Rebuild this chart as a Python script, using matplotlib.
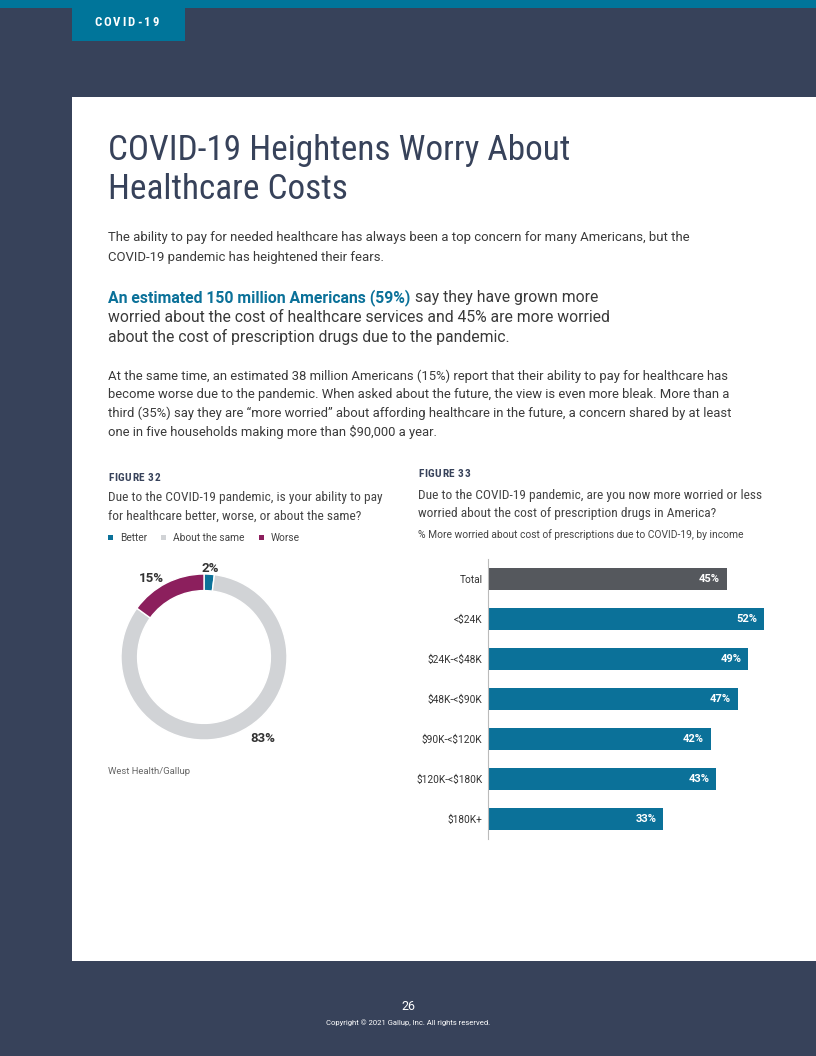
import matplotlib.pyplot as plt
from matplotlib.patches import Rectangle
from matplotlib import font_manager as fm

# figure 32: ability to pay for healthcare
pie_labels = ['Better', 'About the same', 'Worse']
pie_values = [2, 83, 15]
pie_colors = ['#0b7199', '#d1d3d6', '#8c1f5d']
pie_text = ['2%', '83%', '15%']

# figure 33: more worried about cost of prescriptions, by income
bar_labels = ['Total', '<\\$24K', '\\$24K-<\\$48K', '\\$48K-<\\$90K', '\\$90K-<\\$120K',
              '\\$120K-<\\$180K', '\\$180K+']
bar_values = [45, 52, 49, 47, 42, 43, 33]

NAVY = '#37425a'
TEAL = '#0b7199'
TXT = '#3a3a3a'

plt.rcParams['font.family'] = ['Roboto', 'DejaVu Sans']


def find_narrow():
    # look for any condensed / narrow face that is installed
    prefs = ['Roboto Condensed', 'Open Sans Condensed', 'Noto Sans', 'Liberation Sans Narrow',
             'DejaVu Sans']
    found = {}
    for f in fm.fontManager.ttflist:
        narrow = ('Condensed' in f.name or 'Narrow' in f.name or
                  f.stretch in ('condensed', 'semi-condensed') or
                  'Condensed' in f.fname or 'Narrow' in f.fname)
        if not narrow or 'Extra' in f.fname or 'Semi' in f.fname or 'Italic' in f.fname:
            continue
        w = f.weight if isinstance(f.weight, int) else (700 if 'bold' in str(f.weight).lower() else 400)
        for rank, p in enumerate(prefs):
            if f.name.startswith(p.split(' ')[0]):
                key = 'bold' if w >= 700 else ('reg' if w == 400 else None)
                if key and (key not in found or found[key][0] > rank):
                    found[key] = (rank, f.fname)
    return found


nf = find_narrow()
if 'reg' in nf:
    NREG = dict(fontproperties=fm.FontProperties(fname=nf['reg'][1]))
else:
    NREG = dict(family=['Roboto'])
if 'bold' in nf:
    NBOLD = dict(fontproperties=fm.FontProperties(fname=nf['bold'][1]))
else:
    NBOLD = dict(family=['Roboto'], fontweight='bold')

fig = plt.figure(figsize=(8.16, 10.56), dpi=100)
fig.patch.set_facecolor(NAVY)

# page layer in pixel coordinates
pg = fig.add_axes([0, 0, 1, 1])
pg.set_xlim(0, 816)
pg.set_ylim(1056, 0)
pg.axis('off')


def fit(t, width):
    # scale a text so its rendered width matches the page
    fig.canvas.draw()
    w = t.get_window_extent().width
    t.set_fontsize(t.get_fontsize() * width / w)


def tracked(x, y, s, size, color, track):
    # letter-spaced label, one character at a time
    for ch in s:
        t = pg.text(x, y, ch, color=color, size=size, va='center', **NBOLD)
        fig.canvas.draw()
        x = t.get_window_extent().x1 + track


pg.add_patch(Rectangle((0, 0), 816, 8, color='#00759a', lw=0))
pg.add_patch(Rectangle((72, 6), 113, 35, color='#00759a', lw=0))
pg.add_patch(Rectangle((72, 97), 744, 864, color='white', lw=0))
tracked(94, 23, 'COVID-19', 9.2, 'white', 2.0)

t = pg.text(108, 160, 'COVID-19 Heightens Worry About', color=NAVY, size=24, va='baseline', **NREG)
fit(t, 463)
pg.text(108, 199, 'Healthcare Costs', color=NAVY, size=t.get_fontsize(), va='baseline', **NREG)

intro = ['The ability to pay for needed healthcare has always been a top concern for many Americans, but the',
         'COVID-19 pandemic has heightened their fears.']
t = pg.text(108, 238, intro[0], color=TXT, size=9.3, va='center')
fit(t, 578)
pg.text(108, 257, intro[1], color=TXT, size=t.get_fontsize(), va='center')

t1 = pg.text(108, 302, 'An estimated 150 million Americans (59%)', color=TEAL,
             size=11.5, fontweight='bold', va='baseline')
t2 = pg.text(108, 322, 'worried about the cost of healthcare services and 45% are more worried',
             color=TXT, size=11.5, va='baseline')
fit(t2, 506)
t1.set_fontsize(t2.get_fontsize())
fig.canvas.draw()
x_end = t1.get_window_extent().x1
pg.text(x_end + 5, 302, 'say they have grown more', color=TXT, size=t2.get_fontsize(), va='baseline')
pg.text(108, 342, 'about the cost of prescription drugs due to the pandemic.',
        color=TXT, size=t2.get_fontsize(), va='baseline')

para = ['At the same time, an estimated 38 million Americans (15%) report that their ability to pay for healthcare has',
        'become worse due to the pandemic. When asked about the future, the view is even more bleak. More than a',
        'third (35%) say they are \u201cmore worried\u201d about affording healthcare in the future, a concern shared by at least',
        'one in five households making more than \\$90,000 a year.']
t = pg.text(108, 376, para[0], color=TXT, size=9.3, va='center')
fit(t, 620)
for i, line in enumerate(para[1:], start=1):
    pg.text(108, 376 + i * 18.7, line, color=TXT, size=t.get_fontsize(), va='center')

# figure headers
tracked(108, 478, 'FIGURE 32', 8.2, NAVY, 0.6)
t = pg.text(108, 498, 'Due to the COVID-19 pandemic, is your ability to pay', color='#444444',
            size=9.5, va='center', **NREG)
fit(t, 275)
fs_q = t.get_fontsize()
pg.text(108, 516, 'for healthcare better, worse, or about the same?', color='#444444',
        size=fs_q, va='center', **NREG)

lx = 108
for lab, col in zip(pie_labels, pie_colors):
    pg.add_patch(Rectangle((lx, 535), 5, 5, color=col, lw=0))
    t = pg.text(lx + 12, 538, lab, color='#444444', size=7.3, va='center')
    fig.canvas.draw()
    lx = t.get_window_extent().x1 + 14

tracked(418, 474, 'FIGURE 33', 8.2, NAVY, 0.6)
pg.text(418, 496, 'Due to the COVID-19 pandemic, are you now more worried or less', color='#444444',
        size=fs_q, va='center', **NREG)
pg.text(418, 514, 'worried about the cost of prescription drugs in America?', color='#444444',
        size=fs_q, va='center', **NREG)
t = pg.text(418, 535, '% More worried about cost of prescriptions due to COVID-19, by income',
            color='#444444', size=7, va='center')
fit(t, 326)

pg.text(108, 772, 'West Health/Gallup', color='#666666', size=6.8, va='center')

# donut
cx, cy, r = 204, 657, 83
axp = fig.add_axes([(cx - r) / 816, 1 - (cy + r) / 1056, 2 * r / 816, 2 * r / 1056])
axp.pie(pie_values, colors=pie_colors, startangle=90, counterclock=False,
        wedgeprops=dict(width=0.2, edgecolor='white', linewidth=1))
axp.set_xlim(-1, 1)
axp.set_ylim(-1, 1)
axp.set_aspect('equal')
for (lx, ly), s in zip([(210, 568), (263, 738), (151, 578)], pie_text):
    pg.text(lx, ly, s, size=9.5, fontweight='bold', color='#333333', ha='center', va='center')

# bar chart
x0, top, bot = 488, 559, 839
xmax = 60
w = 5.31 * xmax
axb = fig.add_axes([x0 / 816, 1 - bot / 1056, w / 816, (bot - top) / 1056])
ypos = list(range(len(bar_values)))
cols = ['#55585d'] + [TEAL] * (len(bar_values) - 1)
axb.barh(ypos, bar_values, height=0.56, color=cols)
axb.set_xlim(0, xmax)
axb.set_ylim(len(bar_values) - 0.5, -0.5)
for y, v in zip(ypos, bar_values):
    axb.text(v - 1.3, y, f'{v}%', color='white', size=8, fontweight='bold',
             ha='right', va='center')
axb.set_yticks(ypos)
axb.set_yticklabels(bar_labels, size=7.3, color='#333333')
axb.tick_params(axis='y', length=0, pad=4)
axb.set_xticks([])
for s in ['top', 'right', 'bottom']:
    axb.spines[s].set_visible(False)
axb.spines['left'].set_color('#bbbbbb')
axb.patch.set_alpha(0)

# footer
pg.text(408, 1007, '26', color='white', size=9, ha='center', va='center')
pg.text(408, 1023, 'Copyright \u00a9 2021 Gallup, Inc. All rights reserved.', color='white',
        size=5.5, ha='center', va='center')

fig.savefig('out.png', dpi=100, facecolor=fig.get_facecolor())
